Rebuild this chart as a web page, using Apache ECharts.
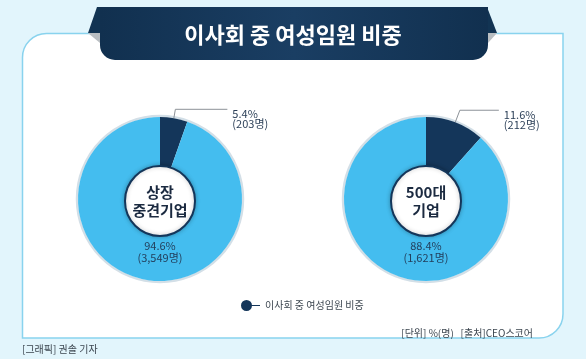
<!DOCTYPE html>
<html>
<head>
<meta charset="utf-8">
<script src="https://cdn.jsdelivr.net/npm/echarts@6/dist/echarts.min.js"></script>
<style>
html,body{margin:0;padding:0;background:#ffffff;}
#main{width:586px;height:359px;}
</style>
</head>
<body>
<div id="main"></div>
<script>
// ---- data ----
var titleText = '이사회 중 여성임원 비중';
var groups = ['상장\n중견기업', '500대\n기업'];
var sliceNames = ['이사회 중 여성임원 비중', '그 외 임원'];
var womenPct = [5.4, 11.6];
var otherPct = [94.6, 88.4];
var womenCount = ['203명', '212명'];
var otherCount = ['3,549명', '1,621명'];
var unitText = '[단위] %(명)   [출처]CEO스코어';
var creditText = '[그래픽] 권솔 기자';

var FONT = '"Noto Sans CJK KR", "Noto Sans", sans-serif';
var DARK = '#14365a';
var LIGHT = '#44bdef';
var centers = [[160, 199], [426, 199]];
var R = 82;
var leaderLen = [9, 13];
var leaderLen2 = [52, 39];

var chart = echarts.init(document.getElementById('main'), null, {renderer: 'canvas'});

var series = groups.map(function (g, i) {
  return {
    type: 'pie',
    name: g,
    center: centers[i],
    radius: [0, R],
    startAngle: 90,
    clockwise: true,
    z: 3,
    silent: true,
    animation: false,
    itemStyle: {borderWidth: 0},
    label: {show: false},
    labelLine: {show: false},
    data: [
      {
        name: sliceNames[0], value: womenPct[i],
        itemStyle: {color: DARK},
        label: {
          show: true, position: 'outside',
          // two empty lines on top so the text hangs below the leader line
          formatter: function () { return ' \n \n' + womenPct[i].toFixed(1) + '%\n(' + womenCount[i] + ')'; },
          fontFamily: FONT, fontSize: 11, lineHeight: 10, color: '#2b3f57', align: 'left'
        },
        labelLine: {
          show: true, length: leaderLen[i], length2: leaderLen2[i],
          lineStyle: {color: '#8c9298', width: 1}
        }
      },
      {name: sliceNames[1], value: otherPct[i], itemStyle: {color: LIGHT}}
    ]
  };
});

var graphics = [
  {type: 'rect', z: -10, shape: {x: 0, y: 0, width: 586, height: 359}, style: {fill: '#e2f5fc'}},
  {type: 'rect', z: -9, shape: {x: 22.5, y: 33.5, width: 540.5, height: 304.5, r: [24, 0, 24, 0]},
    style: {fill: '#ffffff', stroke: '#89d3ee', lineWidth: 1.5}},
  // banner
  {type: 'polygon', z: -8, shape: {points: [[97, 7], [487, 7], [497, 33], [88, 33]]}, style: {fill: '#123453'}},
  {type: 'polygon', z: -8, shape: {points: [[88, 33], [100, 33], [100, 43]]}, style: {fill: '#b9bec2'}},
  {type: 'polygon', z: -8, shape: {points: [[497, 33], [488, 33], [488, 43]]}, style: {fill: '#b9bec2'}},
  {type: 'rect', z: -7, shape: {x: 100, y: 7, width: 388, height: 53, r: [0, 0, 15, 15]},
    style: {fill: new echarts.graphic.LinearGradient(0, 0, 1, 0, [
      {offset: 0, color: '#11304f'}, {offset: 0.5, color: '#1a3e63'}, {offset: 1, color: '#11304f'}])}},
  {type: 'text', z: 10, style: {text: titleText, x: 293, y: 35, textAlign: 'center', textVerticalAlign: 'middle',
    fontFamily: FONT, fontSize: 22, fontWeight: 'bold', fill: '#ffffff'}},
  // footer
  {type: 'text', z: 10, style: {text: unitText, x: 533, y: 333, textAlign: 'right', textVerticalAlign: 'middle',
    fontFamily: FONT, fontSize: 10, fill: '#3c4650'}},
  {type: 'text', z: 10, style: {text: creditText, x: 22, y: 349, textAlign: 'left', textVerticalAlign: 'middle',
    fontFamily: FONT, fontSize: 10, fill: '#3c4650'}}
];

groups.forEach(function (g, i) {
  var cx = centers[i][0], cy = centers[i][1];
  graphics.push({type: 'circle', z: 1, shape: {cx: cx, cy: cy, r: R + 1}, style: {fill: 'none', stroke: '#d3dfe7', lineWidth: 2.5}});
  graphics.push({type: 'circle', z: 20, shape: {cx: cx, cy: cy + 2, r: 35},
    style: {fill: '#ffffff', stroke: DARK, lineWidth: 2, shadowBlur: 4, shadowColor: 'rgba(0,0,0,0.25)'}});
  graphics.push({type: 'text', z: 21, style: {text: g, x: cx, y: cy + 2, textAlign: 'center', textVerticalAlign: 'middle',
    fontFamily: FONT, fontSize: 15, fontWeight: 'bold', lineHeight: 18, fill: '#1b2a40'}});
  graphics.push({type: 'text', z: 21, style: {text: otherPct[i].toFixed(1) + '%\n(' + otherCount[i] + ')',
    x: cx, y: cy + 53, textAlign: 'center', textVerticalAlign: 'middle',
    fontFamily: FONT, fontSize: 11, lineHeight: 12, fill: '#23405e'}});
});

chart.setOption({
  animation: false,
  backgroundColor: 'transparent',
  legend: {
    data: [sliceNames[0]],
    left: 236, top: 295,
    itemWidth: 19, itemHeight: 11, itemGap: 10,
    selectedMode: false,
    icon: 'path://M5.5,0 A5.5,5.5 0 1,1 5.5,11 A5.5,5.5 0 1,1 5.5,0 Z M10,5 L19,5 L19,6 L10,6 Z',
    textStyle: {fontFamily: FONT, fontSize: 10, color: '#3c4650'}
  },
  graphic: {elements: graphics},
  series: series
});
</script>
</body>
</html>
